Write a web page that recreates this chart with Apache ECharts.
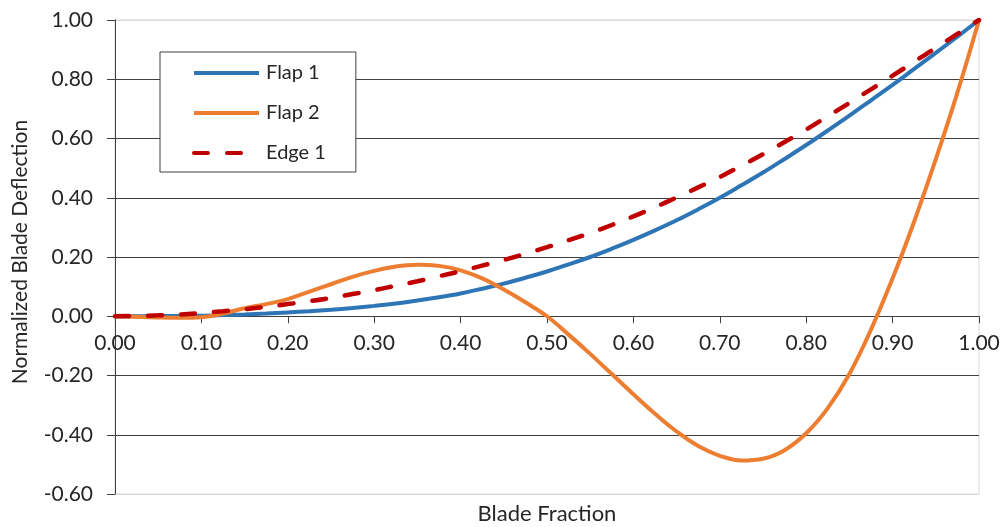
<!DOCTYPE html>
<html>
<head>
<meta charset="utf-8">
<script src="https://cdn.jsdelivr.net/npm/echarts@6/dist/echarts.min.js"></script>
<style>html,body{margin:0;padding:0;background:#fff}#c{width:1005px;height:527px}</style>
</head>
<body>
<div id="c"></div>
<script>
var bladeFraction = [0, 0.025, 0.05, 0.075, 0.1, 0.125, 0.15, 0.175, 0.2, 0.225, 0.25, 0.275, 0.3, 0.325, 0.35, 0.375, 0.4, 0.425, 0.45, 0.475, 0.5, 0.525, 0.55, 0.575, 0.6, 0.625, 0.65, 0.675, 0.7, 0.725, 0.75, 0.775, 0.8, 0.825, 0.85, 0.875, 0.9, 0.925, 0.95, 0.975, 1.0];
var flap1 = [0, 0.0001, 0.0005, 0.001, 0.002, 0.004, 0.006, 0.009, 0.013, 0.017, 0.022, 0.028, 0.035, 0.043, 0.053, 0.064, 0.077, 0.093, 0.11, 0.13, 0.151, 0.175, 0.2, 0.228, 0.258, 0.29, 0.324, 0.361, 0.4, 0.442, 0.485, 0.531, 0.578, 0.627, 0.677, 0.729, 0.781, 0.835, 0.889, 0.944, 1.0];
var flap2 = [0, -0.002, -0.004, -0.005, -0.003, 0.009, 0.027, 0.041, 0.058, 0.083, 0.108, 0.133, 0.153, 0.168, 0.174, 0.17, 0.155, 0.128, 0.09, 0.047, 0.0, -0.062, -0.127, -0.195, -0.263, -0.329, -0.389, -0.438, -0.471, -0.487, -0.481, -0.452, -0.395, -0.31, -0.195, -0.045, 0.128, 0.32, 0.53, 0.755, 1.0];
var edge1 = [0, 0.001, 0.003, 0.006, 0.011, 0.017, 0.024, 0.032, 0.041, 0.051, 0.062, 0.075, 0.088, 0.103, 0.118, 0.135, 0.152, 0.171, 0.19, 0.211, 0.233, 0.257, 0.281, 0.308, 0.337, 0.368, 0.401, 0.435, 0.47, 0.508, 0.547, 0.588, 0.63, 0.675, 0.72, 0.766, 0.812, 0.859, 0.906, 0.953, 1.0];
var seriesNames = ['Flap 1', 'Flap 2', 'Edge 1'];
var xTitle = 'Blade Fraction';
var yTitle = 'Normalized Blade Deflection';

function pairs(vals) { return bladeFraction.map(function (x, i) { return [x, vals[i]]; }); }

var FONT = 'Lato';
var Y_MIN = -0.6, Y_MAX = 1.0;
var GRID = { left: 115, right: 26, top: 20, bottom: 33 };
var plotH = 527 - GRID.top - GRID.bottom;
// x axis sits on y = 0 (crossing point), expressed as an axis offset from the bottom edge
var zeroOffset = -plotH * (0 - Y_MIN) / (Y_MAX - Y_MIN);

var chart = echarts.init(document.getElementById('c'));
var gridColors = ['#d9d9d9', '#404040', '#404040', '#404040', '#404040', '#404040', '#404040', '#404040', '#d9d9d9'];
chart.setOption({
  animation: false,
  backgroundColor: '#fff',
  textStyle: { fontFamily: FONT },
  grid: { left: GRID.left, right: GRID.right, top: GRID.top, bottom: GRID.bottom, show: true, borderColor: '#d9d9d9', borderWidth: 1 },
  legend: {
    left: 160, top: 52, orient: 'vertical',
    padding: [11, 30, 9, 32],
    itemWidth: 65, itemHeight: 14, itemGap: 20,
    borderColor: '#404040', borderWidth: 1, backgroundColor: '#fff',
    itemStyle: { opacity: 0 },
    lineStyle: { width: 4 },
    textStyle: { fontFamily: FONT, fontSize: 20, color: '#262626', padding: [0, 0, 0, 2] },
    data: seriesNames
  },
  xAxis: {
    type: 'value', min: 0, max: 1, interval: 0.1,
    offset: zeroOffset,
    axisLine: { onZero: false, lineStyle: { color: '#404040', width: 1 } },
    axisTick: { show: true, inside: false, length: 7, lineStyle: { color: '#404040' } },
    axisLabel: { margin: 16, fontSize: 21, color: '#262626', fontFamily: FONT,
      formatter: function (v) { return v.toFixed(2); } },
    splitLine: { show: false }
  },
  yAxis: {
    type: 'value', min: Y_MIN, max: Y_MAX, interval: 0.2,
    axisLine: { show: true, onZero: false, lineStyle: { color: '#404040', width: 1 } },
    axisTick: { show: true, inside: false, length: 8, lineStyle: { color: '#404040' } },
    axisLabel: { margin: 22, fontSize: 21, color: '#262626', fontFamily: FONT,
      formatter: function (v) { return v.toFixed(2); } },
    splitLine: { show: true, lineStyle: { color: gridColors, width: 1 } }
  },
  graphic: [
    { type: 'text', x: 547, y: 514, style: { text: xTitle, align: 'center', verticalAlign: 'middle', font: '22px ' + FONT, fill: '#262626' } },
    { type: 'text', rotation: Math.PI / 2, x: 20, y: 252, style: { text: yTitle, align: 'center', verticalAlign: 'middle', font: '21px ' + FONT, fill: '#262626' } }
  ],
  series: [
    { name: seriesNames[0], type: 'line', smooth: 0.4, symbol: 'none', data: pairs(flap1),
      lineStyle: { color: '#2E75B6', width: 4 }, itemStyle: { color: '#2E75B6' } },
    { name: seriesNames[1], type: 'line', smooth: 0.4, symbol: 'none', data: pairs(flap2),
      lineStyle: { color: '#ED7D31', width: 4 }, itemStyle: { color: '#ED7D31' } },
    { name: seriesNames[2], type: 'line', smooth: 0.4, symbol: 'none', data: pairs(edge1),
      lineStyle: { color: '#C00000', width: 4.5, type: [14, 19], cap: 'round' }, itemStyle: { color: '#C00000' } }
  ]
});
</script>
</body>
</html>
